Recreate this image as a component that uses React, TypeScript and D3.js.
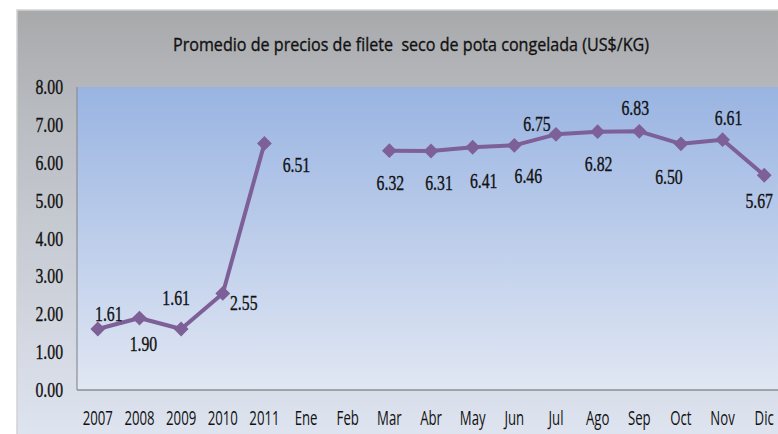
import React, { useEffect, useRef } from 'react';
import * as d3 from 'd3';

const title = 'Promedio de precios de filete\u00a0 seco de pota congelada (US$/KG)';

const categories = ['2007', '2008', '2009', '2010', '2011', 'Ene', 'Feb', 'Mar', 'Abr', 'May', 'Jun', 'Jul', 'Ago', 'Sep', 'Oct', 'Nov', 'Dic'];
const prices: (number | null)[] = [1.61, 1.9, 1.61, 2.55, 6.51, null, null, 6.32, 6.31, 6.41, 6.46, 6.75, 6.82, 6.83, 6.5, 6.61, 5.67];
const yTicks = [0, 1, 2, 3, 4, 5, 6, 7, 8];

// where each data label sits relative to its marker (px), as placed in the original
const labelOffsets: [number, number][] = [
  [11, -15], [4, 26], [-5, -31], [21, 9], [32, 21], [0, 0], [0, 0],
  [1, 32], [8, 32], [11, 33], [14, 30], [-19, -11], [1, 32], [-4, -24],
  [-12, 33], [6, -22], [-5, 25],
];

const W = 778;
const H = 434;

const App: React.FC = () => {
  const svgRef = useRef<SVGSVGElement>(null);

  useEffect(() => {
    if (!svgRef.current) return;
    const svg = d3.select(svgRef.current);
    svg.selectAll('*').remove();

    const margin = { top: 87, left: 77, bottom: 390 };
    const band = 41.65;

    const x = d3.scaleBand<string>()
      .domain(categories)
      .range([margin.left, margin.left + band * categories.length])
      .padding(0);
    const y = d3.scaleLinear().domain([0, 8]).range([margin.bottom, margin.top]);
    const cx = (c: string) => (x(c) ?? 0) + x.bandwidth() / 2;

    const defs = svg.append('defs');
    const outerGrad = defs.append('linearGradient').attr('id', 'outerGrad')
      .attr('x1', 0).attr('y1', 0).attr('x2', 0).attr('y2', 1);
    outerGrad.append('stop').attr('offset', '0%').attr('stop-color', '#a8a9ab');
    outerGrad.append('stop').attr('offset', '25%').attr('stop-color', '#b9bcc1');
    outerGrad.append('stop').attr('offset', '100%').attr('stop-color', '#dfe5f1');

    const plotGrad = defs.append('linearGradient').attr('id', 'plotGrad')
      .attr('x1', 0).attr('y1', 0).attr('x2', 0).attr('y2', 1);
    plotGrad.append('stop').attr('offset', '0%').attr('stop-color', '#99b4e2');
    plotGrad.append('stop').attr('offset', '100%').attr('stop-color', '#e1e7f3');

    // chart frame
    svg.append('rect')
      .attr('x', 17).attr('y', 10)
      .attr('width', W).attr('height', H)
      .attr('fill', 'url(#outerGrad)')
      .attr('stroke', '#d2d2d2').attr('stroke-width', 1.5);

    // plot area
    svg.append('rect')
      .attr('x', margin.left).attr('y', margin.top)
      .attr('width', W).attr('height', margin.bottom - margin.top)
      .attr('fill', 'url(#plotGrad)');

    // title
    svg.append('text')
      .attr('x', 411).attr('y', 51)
      .attr('text-anchor', 'middle')
      .attr('textLength', 476)
      .attr('lengthAdjust', 'spacingAndGlyphs')
      .style('font-family', '"Open Sans", "Noto Sans", sans-serif')
      .style('font-size', '18px')
      .style('fill', '#111')
      .style('stroke', '#111')
      .style('stroke-width', 0.35)
      .text(title);

    // axes lines
    svg.append('line')
      .attr('x1', margin.left).attr('x2', margin.left)
      .attr('y1', margin.top).attr('y2', margin.bottom)
      .attr('stroke', '#8a8e96').attr('stroke-width', 1.2);
    svg.append('line')
      .attr('x1', margin.left).attr('x2', W)
      .attr('y1', margin.bottom).attr('y2', margin.bottom)
      .attr('stroke', '#8a8e96').attr('stroke-width', 1.5);

    // y tick labels
    svg.append('g').selectAll('text')
      .data(yTicks)
      .enter()
      .append('text')
      .attr('transform', d => `translate(63,${y(d)}) scale(0.9,1.15)`)
      .attr('text-anchor', 'end')
      .attr('dy', '0.35em')
      .style('font-family', '"Liberation Serif", serif')
      .style('font-size', '17.5px')
      .style('fill', '#111')
      .style('stroke', '#111')
      .style('stroke-width', 0.3)
      .text(d => d.toFixed(2));

    // x tick labels
    svg.append('g').selectAll('text')
      .data(categories)
      .enter()
      .append('text')
      .attr('transform', d => `translate(${cx(d)},425) scale(0.8,1.2)`)
      .attr('text-anchor', 'middle')
      .style('font-family', '"Open Sans", "Noto Sans", sans-serif')
      .style('font-size', '16.5px')
      .style('fill', '#111')
      .text(d => d);

    // series line
    const pts = categories.map((c, i) => ({ c, v: prices[i], i }));
    const line = d3.line<{ c: string; v: number | null }>()
      .defined(d => d.v != null)
      .x(d => cx(d.c))
      .y(d => y(d.v as number));

    svg.append('path')
      .datum(pts)
      .attr('d', line)
      .attr('fill', 'none')
      .attr('stroke', '#7d6097')
      .attr('stroke-width', 4)
      .attr('stroke-linejoin', 'round');

    const valid = pts.filter(d => d.v != null);

    svg.append('g').selectAll('path')
      .data(valid)
      .enter()
      .append('path')
      .attr('d', d3.symbol().type(d3.symbolDiamond2).size(140)())
      .attr('transform', d => `translate(${cx(d.c)},${y(d.v as number)})`)
      .attr('fill', '#7d6097');

    // data labels
    svg.append('g').selectAll('text')
      .data(valid)
      .enter()
      .append('text')
      .attr('transform', d => {
        const [dx, dy] = labelOffsets[d.i];
        return `translate(${cx(d.c) + dx},${y(d.v as number) + dy}) scale(0.9,1.2)`;
      })
      .attr('text-anchor', 'middle')
      .attr('dy', '0.35em')
      .style('font-family', '"Liberation Serif", serif')
      .style('font-size', '17.5px')
      .style('fill', '#111')
      .style('stroke', '#111')
      .style('stroke-width', 0.3)
      .text(d => (d.v as number).toFixed(2));
  }, []);

  return (
    <svg
      ref={svgRef}
      width={W}
      height={H}
      style={{ position: 'absolute', left: 0, top: 0, background: '#fff' }}
    />
  );
};

export default App;
